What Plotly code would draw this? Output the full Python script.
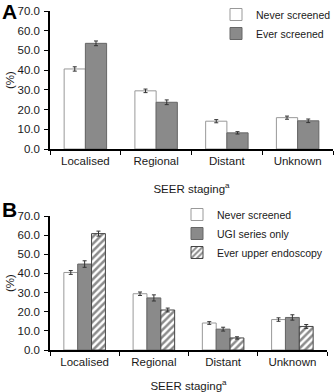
import plotly.graph_objects as go

categories = ["Localised", "Regional", "Distant", "Unknown"]

# Panel A
a_never = [40.6, 29.5, 14.1, 15.9]
a_never_err = [1.1, 0.9, 0.8, 0.8]
a_ever = [53.6, 23.7, 8.2, 14.3]
a_ever_err = [1.2, 1.2, 0.6, 0.9]

# Panel B
b_never = [40.5, 29.4, 14.1, 15.9]
b_never_err = [1.0, 0.9, 0.7, 0.9]
b_ugi = [44.9, 27.2, 10.9, 17.0]
b_ugi_err = [1.7, 1.6, 1.0, 1.4]
b_endo = [60.8, 20.9, 6.3, 12.3]
b_endo_err = [1.3, 1.0, 0.6, 1.0]

FONT = "Liberation Sans, Arial, sans-serif"
GRAY = "#8a8a8a"
TXT = "#1a1a1a"
ERR = dict(type="data", color="#333333", thickness=1, width=2)

fig = go.Figure()

def err(v):
    return dict(ERR, array=v)

fig.add_trace(go.Bar(x=categories, y=a_never, name="Never screened", error_y=err(a_never_err),
                     marker=dict(color="white", line=dict(color="#999999", width=1)),
                     xaxis="x", yaxis="y", legend="legend"))
fig.add_trace(go.Bar(x=categories, y=a_ever, name="Ever screened", error_y=err(a_ever_err),
                     marker=dict(color=GRAY, line=dict(color="#666666", width=1)),
                     xaxis="x", yaxis="y", legend="legend"))

fig.add_trace(go.Bar(x=categories, y=b_never, name="Never screened", error_y=err(b_never_err),
                     marker=dict(color="white", line=dict(color="#999999", width=1)),
                     xaxis="x2", yaxis="y2", legend="legend2"))
fig.add_trace(go.Bar(x=categories, y=b_ugi, name="UGI series only", error_y=err(b_ugi_err),
                     marker=dict(color=GRAY, line=dict(color="#666666", width=1)),
                     xaxis="x2", yaxis="y2", legend="legend2"))
fig.add_trace(go.Bar(x=categories, y=b_endo, name="Ever upper endoscopy", error_y=err(b_endo_err),
                     marker=dict(color="white", line=dict(color="#444444", width=1),
                                 pattern=dict(shape="/", fgcolor="#1a1a1a", bgcolor="white",
                                              size=5, solidity=0.5, fillmode="overlay")),
                     xaxis="x2", yaxis="y2", legend="legend2"))

W, H = 334, 392

def xd(a, b):
    return [a / W, b / W]

def yd(top, bottom):
    return [1 - bottom / H, 1 - top / H]

axis_common = dict(showline=True, linecolor="black", linewidth=1.5, ticks="outside",
                   ticklen=4, tickcolor="black", showgrid=False, zeroline=False, automargin=False,
                   tickfont=dict(family=FONT, size=11.5, color=TXT))

def xa(standoff):
    return dict(axis_common, tickson="boundaries", type="category",
                title=dict(text="SEER staging<sup>a</sup>", font=dict(family=FONT, size=11.5, color=TXT),
                           standoff=standoff))

ya = dict(axis_common, range=[0, 70], dtick=10, tickformat=".1f", ticklabelstandoff=2,
          title=dict(text="(%)", font=dict(family=FONT, size=11.5, color=TXT), standoff=1))

leg_font = dict(family=FONT, size=10.5, color=TXT)

fig.update_layout(
    width=W, height=H,
    margin=dict(l=0, r=0, t=0, b=0, autoexpand=False),
    paper_bgcolor="white", plot_bgcolor="white",
    barmode="group",
    bargap=0.4,
    font=dict(family=FONT, size=11, color=TXT),
    xaxis=dict(xa(19), domain=xd(50, 333), anchor="y"),
    yaxis=dict(ya, domain=yd(11, 149), anchor="x"),
    xaxis2=dict(xa(15), domain=xd(50, 327), anchor="y2"),
    yaxis2=dict(ya, domain=yd(216, 350), anchor="x2"),
    legend=dict(x=216 / W, y=1, xanchor="left", yanchor="top",
                bgcolor="rgba(0,0,0,0)", font=leg_font, itemwidth=30, tracegroupgap=0),
    legend2=dict(x=177 / W, y=1 - 200 / H, xanchor="left", yanchor="top",
                 bgcolor="rgba(0,0,0,0)", font=leg_font, itemwidth=30, tracegroupgap=0),
    annotations=[
        dict(text="<b>A</b>", x=0, y=1 + 2 / H, xref="paper", yref="paper", xanchor="left", yanchor="top",
             showarrow=False, font=dict(family=FONT, size=21, color="black")),
        dict(text="<b>B</b>", x=0, y=1 - 196 / H, xref="paper", yref="paper", xanchor="left", yanchor="top",
             showarrow=False, font=dict(family=FONT, size=21, color="black")),
    ],
)

fig.write_html("out.html", config={"displayModeBar": False},
               post_script="document.body.style.margin='0';document.body.style.overflow='hidden';")
